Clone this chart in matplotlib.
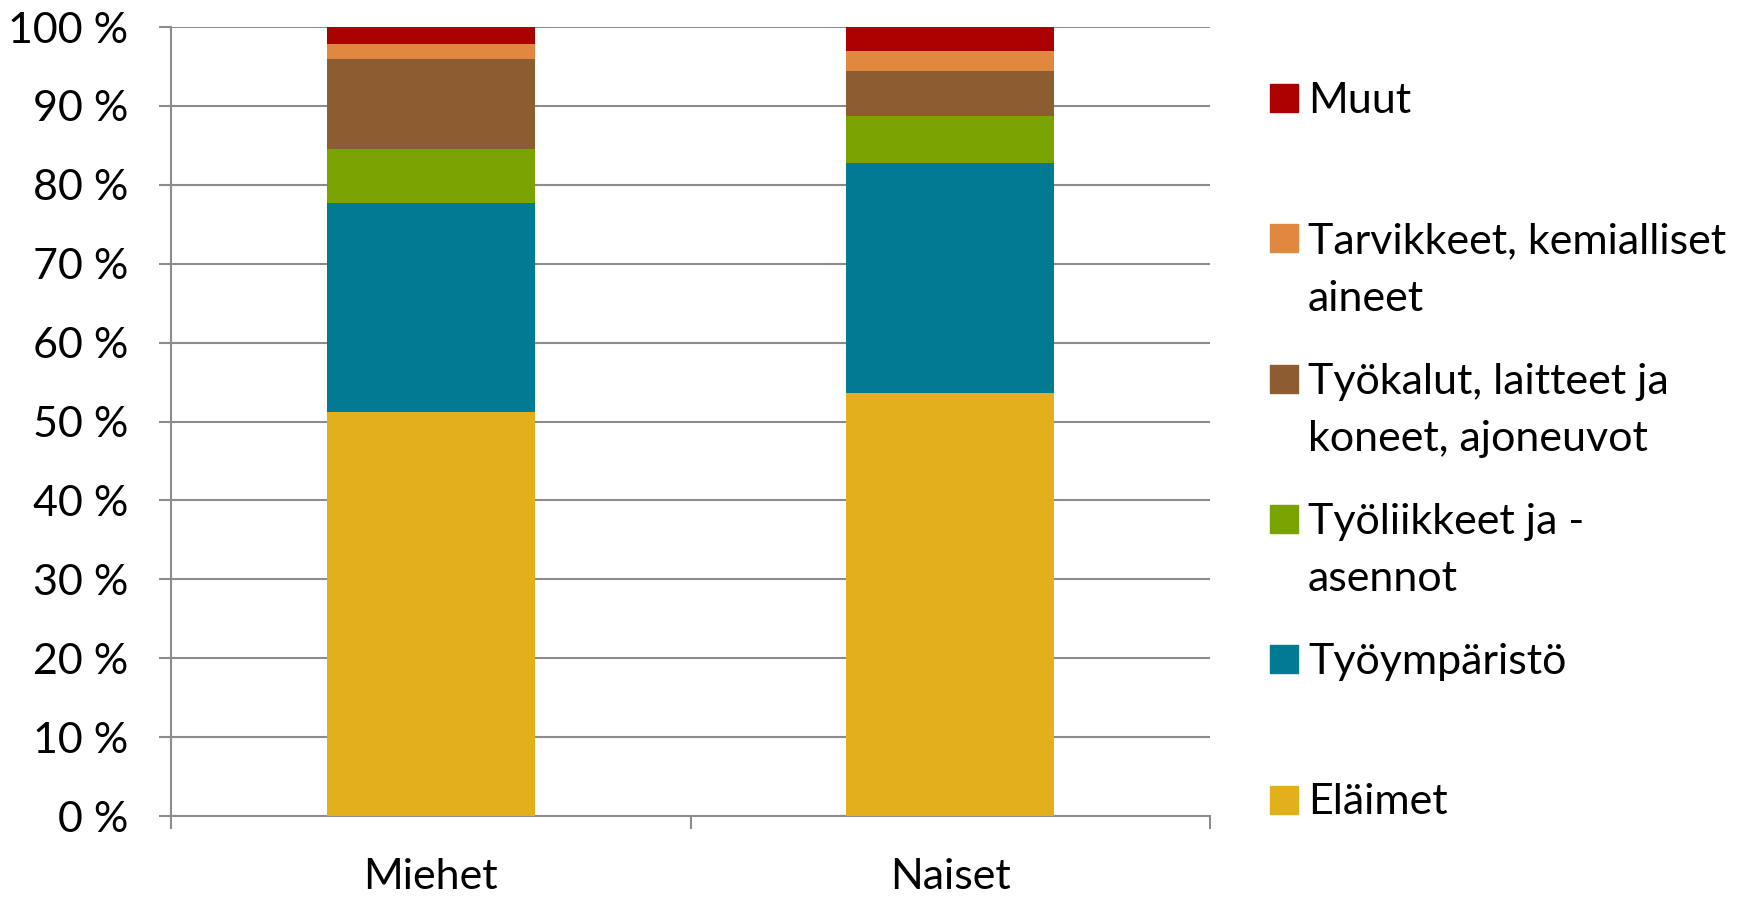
import numpy as np
import matplotlib.pyplot as plt
from matplotlib.patches import Rectangle

# Data (percent of cases)
groups = ['Miehet', 'Naiset']
categories = ['Eläimet', 'Työympäristö', 'Työliikkeet ja -\nasennot',
              'Työkalut, laitteet ja\nkoneet, ajoneuvot',
              'Tarvikkeet, kemialliset\naineet', 'Muut']
elaimet = [51.2, 53.6]
tyoymparisto = [26.5, 29.1]
tyoliikkeet = [6.9, 6.0]
tyokalut = [11.4, 5.7]
tarvikkeet = [1.9, 2.6]
muut = [2.1, 3.0]
series = [elaimet, tyoymparisto, tyoliikkeet, tyokalut, tarvikkeet, muut]
colors = ['#E1B01B', '#007B91', '#79A300', '#8B5D30', '#E0883F', '#AA0000']
yticks = np.arange(0, 101, 10)

plt.rcParams['font.family'] = ['Lato', 'DejaVu Sans']
W, H = 1763, 897
fs = 31
fig = plt.figure(figsize=(W / 100, H / 100), dpi=100)
ax = fig.add_axes([171 / W, 1 - 816 / H, (1210 - 171) / W, (816 - 27) / H])

grid_c = '#8C8C8C'
x = np.arange(len(groups))
bottom = np.zeros(len(groups))
for vals, c in zip(series, colors):
    ax.bar(x, vals, width=0.4, bottom=bottom, color=c, zorder=3)
    bottom += np.array(vals)

ax.set_xlim(-0.5, 1.5)
ax.set_ylim(0, 100)
ax.set_yticks(yticks)
ax.set_yticklabels([f'{v} %' for v in yticks])
ax.yaxis.grid(True, color=grid_c, linewidth=1.5, zorder=0)
ax.set_xticks(x)
ax.set_xticklabels(groups)
ax.set_xticks([-0.5, 0.5, 1.5], minor=True)
ax.tick_params(axis='x', which='major', length=0, pad=30, labelsize=fs)
ax.tick_params(axis='x', which='minor', length=9, width=1.5, color=grid_c, direction='out')
ax.tick_params(axis='y', length=9, width=1.5, color=grid_c, pad=22, labelsize=fs)
for s in ['top', 'right']:
    ax.spines[s].set_visible(False)
for s in ['left', 'bottom']:
    ax.spines[s].set_color(grid_c)
    ax.spines[s].set_linewidth(1.5)

# legend, top entry first, evenly spaced slots
slot0, slot_gap, line_gap = 98, 140.3, 57.5
for i, (lab, c) in enumerate(zip(categories[::-1], colors[::-1])):
    yc = slot0 + i * slot_gap
    fig.patches.append(Rectangle((1270 / W, 1 - (yc + 14) / H), 28 / W, 28 / H,
                                 transform=fig.transFigure, color=c))
    for k, line in enumerate(lab.split('\n')):
        fig.text(1308 / W, 1 - (yc + 15 + k * line_gap) / H, line,
                 fontsize=fs, va='baseline', ha='left')

fig.savefig('out.png', dpi=100)
